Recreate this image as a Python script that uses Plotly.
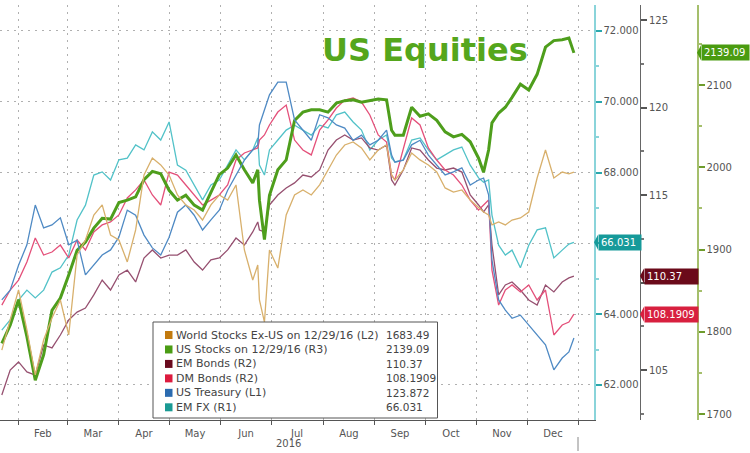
import plotly.graph_objects as go

# ---------------- data ----------------
dates = [
    "2016-01-22", "2016-01-27", "2016-02-01", "2016-02-06", "2016-02-11", "2016-02-16", "2016-02-21", "2016-02-26",
    "2016-03-02", "2016-03-07", "2016-03-12", "2016-03-17", "2016-03-22", "2016-03-27",
    "2016-04-01", "2016-04-06", "2016-04-11", "2016-04-16", "2016-04-21", "2016-04-26",
    "2016-05-01", "2016-05-06", "2016-05-11", "2016-05-16", "2016-05-21", "2016-05-26", "2016-05-31",
    "2016-06-05", "2016-06-10", "2016-06-15", "2016-06-20", "2016-06-23", "2016-06-24", "2016-06-27", "2016-06-30",
    "2016-07-05", "2016-07-10", "2016-07-15", "2016-07-20", "2016-07-25", "2016-07-30",
    "2016-08-04", "2016-08-09", "2016-08-14", "2016-08-19", "2016-08-24", "2016-08-29",
    "2016-09-03", "2016-09-08", "2016-09-11", "2016-09-13", "2016-09-18", "2016-09-23", "2016-09-28",
    "2016-10-03", "2016-10-08", "2016-10-13", "2016-10-18", "2016-10-23", "2016-10-28",
    "2016-11-02", "2016-11-05", "2016-11-08", "2016-11-10", "2016-11-14", "2016-11-18", "2016-11-22", "2016-11-27",
    "2016-12-02", "2016-12-07", "2016-12-12", "2016-12-17", "2016-12-22", "2016-12-26", "2016-12-29",
]

world_stocks = [  # L2 (hidden axis)
    1552.6, 1574.7, 1596.8, 1567.4, 1534.3, 1560.0, 1576.2, 1589.4,
    1563.7, 1622.5, 1633.5, 1651.9, 1659.3, 1637.2,
    1633.5, 1617.4, 1640.9, 1681.3, 1693.8, 1688.7,
    1681.3, 1666.6, 1659.3, 1655.6, 1648.2, 1659.3, 1666.6,
    1662.9, 1674.0, 1626.2, 1604.1, 1615.1, 1589.4, 1573.2, 1626.2,
    1612.9, 1651.9, 1666.6, 1670.3, 1666.6, 1674.0,
    1685.0, 1696.0, 1703.4, 1705.6, 1701.2, 1692.4,
    1699.7, 1703.4, 1681.3, 1677.6, 1685.0, 1697.5, 1692.4,
    1688.7, 1683.5, 1671.8, 1668.8, 1670.3, 1662.9,
    1657.1, 1654.1, 1651.9, 1644.6, 1646.8, 1644.6, 1648.2, 1649.7,
    1654.1, 1679.1, 1699.7, 1679.1, 1683.5, 1682.1, 1683.49,
]

us_stocks = [  # R3
    1786, 1808, 1839, 1794, 1741, 1772, 1826, 1841,
    1869, 1899, 1909, 1926, 1938, 1937,
    1957, 1960, 1964, 1985, 1995, 1992,
    1972, 1960, 1966, 1954, 1948, 1969, 1991,
    1999, 2015, 1997, 1981, 1997, 1960, 1912, 1966,
    1997, 2009, 2057, 2067, 2070, 2070,
    2067, 2078, 2081, 2082, 2079, 2081,
    2083, 2082, 2045, 2039, 2039, 2073, 2062,
    2065, 2057, 2043, 2037, 2040, 2031,
    2011, 1994, 2021, 2054, 2066, 2073, 2085, 2101,
    2094, 2113, 2146, 2154, 2155, 2157, 2139.09,
]

em_bonds = [  # R2
    103.57, 105.00, 105.46, 104.89, 104.71, 106.43, 106.26, 107.00,
    107.86, 108.31, 108.54, 109.29, 110.14, 109.57,
    110.43, 110.71, 110.03, 111.40, 111.86, 111.40,
    111.57, 111.57, 111.86, 111.17, 110.71, 111.29, 111.40,
    111.86, 112.54, 112.14, 112.89, 113.46, 113.00, 112.89, 114.43,
    115.00, 115.40, 115.69, 116.14, 116.03, 116.43,
    117.57, 118.14, 118.43, 118.14, 118.26, 117.69,
    117.57, 117.86, 115.86, 115.57, 116.43, 117.69, 117.57,
    117.00, 116.54, 116.43, 116.54, 116.31, 115.00,
    114.43, 114.03, 114.43, 112.14, 109.29, 109.86, 110.03, 109.57,
    109.00, 108.71, 109.86, 109.46, 110.03, 110.26, 110.37,
]

dm_bonds = [  # R2
    108.71, 109.57, 110.14, 111.17, 112.54, 111.57, 111.74, 112.14,
    111.40, 112.43, 111.86, 112.89, 113.29, 113.46,
    113.86, 114.83, 115.29, 115.86, 115.00, 114.43,
    116.31, 116.14, 115.57, 115.00, 114.43, 114.71, 115.00,
    115.57, 117.00, 117.40, 117.57, 117.69, 118.14, 118.43, 119.00,
    119.74, 120.14, 118.14, 117.57, 117.29, 118.71,
    119.29, 119.97, 120.43, 120.54, 120.31, 119.57,
    118.43, 118.03, 116.14, 115.86, 117.57, 119.40, 119.00,
    117.69, 117.00, 116.43, 116.14, 115.57, 114.71,
    114.14, 114.43, 114.71, 110.71, 108.71, 109.57, 109.86, 109.46,
    109.86, 109.00, 109.57, 107.00, 107.57, 107.74, 108.1909,
]

us_treasury = [  # L1 (hidden axis)
    124.62, 124.81, 125.30, 125.70, 126.48, 126.03, 126.09, 126.23,
    125.70, 125.79, 125.11, 125.30, 125.50, 125.60,
    125.85, 126.38, 126.28, 125.89, 125.64, 125.50,
    125.85, 126.34, 126.48, 126.28, 125.99, 126.19, 126.38,
    126.77, 127.07, 127.36, 127.56, 127.66, 128.05, 128.34, 128.64,
    128.89, 128.89, 128.15, 127.95, 127.75, 128.25,
    128.19, 128.05, 127.99, 127.75, 127.85, 127.66,
    127.75, 127.95, 127.46, 127.32, 127.36, 127.66, 127.75,
    127.46, 127.26, 127.07, 127.13, 127.21, 126.87,
    126.97, 127.01, 126.68, 125.40, 124.62, 124.42, 124.26, 124.32,
    124.13, 123.93, 123.74, 123.25, 123.48, 123.60, 123.872,
]

em_fx = [  # R1
    63.55, 63.84, 64.40, 64.68, 64.46, 64.68, 65.19, 65.31,
    65.67, 66.66, 67.08, 67.93, 68.02, 67.79,
    68.36, 68.41, 68.78, 68.64, 69.15, 68.92,
    69.43, 68.21, 68.07, 67.65, 67.23, 67.65, 67.79,
    68.21, 68.64, 68.36, 68.64, 68.98, 68.21, 67.93, 68.64,
    68.92, 69.20, 69.34, 69.20, 69.06, 69.34,
    69.26, 69.63, 69.71, 69.43, 69.20, 68.64,
    68.92, 69.06, 68.41, 68.30, 68.36, 68.92, 68.98,
    68.64, 68.36, 68.50, 68.64, 68.72, 68.21,
    67.85, 67.73, 67.79, 66.80, 65.95, 65.67, 65.81, 65.31,
    65.95, 66.38, 66.44, 65.59, 65.81, 65.98, 66.031,
]

legend_names = [
    "World Stocks Ex-US on 12/29/16 (L2)",
    "US Stocks on 12/29/16 (R3)",
    "EM Bonds (R2)",
    "DM Bonds (R2)",
    "US Treasury (L1)",
    "EM FX (R1)",
]
legend_values = ["1683.49", "2139.09", "110.37", "108.1909", "123.872", "66.031"]

r1_ticks = [62, 64, 66, 68, 70, 72]
r1_labels = ["62.000", "64.000", "", "68.000", "70.000", "72.000"]   # 66 hidden under the tag
r2_ticks = [105, 110, 115, 120, 125]
r2_labels = ["105", "", "115", "120", "125"]                          # 110 hidden under the tag
r3_ticks = [1700, 1800, 1900, 2000, 2100]

for s in (world_stocks, us_stocks, em_bonds, dm_bonds, us_treasury, em_fx):
    assert len(s) == len(dates)

# ---------------- geometry / style ----------------
W, H = 750, 453
MT, MB = 5, 33
PH = H - MT - MB          # plot height in px
BOTTOM = H - MB           # px of plot bottom


def px(xp):               # horizontal pixel -> paper
    return xp / W


def py(yp):               # vertical pixel (from top) -> paper
    return (BOTTOM - yp) / PH


FONT = "DejaVu Sans"
GRID = "#b0b0b0"
GRID_DASH = "2px,5px"

R1_RANGE = [61.011, 72.734]
R2_RANGE = [102.143, 125.857]
R3_RANGE = [1692.7, 2197.3]
L1_RANGE = [122.265, 130.402]
L2_RANGE = [1501.18, 1806.3]

line_cols = {
    "world": "#d8b06c",
    "us": "#4e9e1c",
    "emb": "#965070",
    "dmb": "#e4507a",
    "ust": "#4f8ac4",
    "emfx": "#52c2c8",
}
legend_cols = ["#c27a0e", "#4a9c14", "#6a0a1e", "#dc1b3e", "#2b6bb0", "#1a9a94"]

fig = go.Figure()


def add(y, axis, col, width):
    fig.add_trace(go.Scatter(x=dates, y=y, yaxis=axis, mode="lines",
                             line=dict(color=col, width=width),
                             hoverinfo="skip", showlegend=False))


add(em_bonds, "y2", line_cols["emb"], 1.3)
add(dm_bonds, "y2", line_cols["dmb"], 1.3)
add(us_treasury, "y4", line_cols["ust"], 1.3)
add(em_fx, "y", line_cols["emfx"], 1.3)
add(world_stocks, "y5", line_cols["world"], 1.3)
add(us_stocks, "y3", line_cols["us"], 3.0)

tickfont = dict(family=FONT, size=10, color="#555555")

fig.update_layout(
    template="none",
    width=W, height=H,
    margin=dict(l=0, r=0, t=MT, b=MB, pad=0),
    paper_bgcolor="white", plot_bgcolor="white",
    font=dict(family=FONT, size=10, color="#555555"),
    hovermode=False,
    showlegend=False,
    xaxis=dict(
        domain=[0, px(594)], type="date",
        range=["2016-01-20 22:00", "2017-01-10 00:00"],
        dtick="M1", tick0="2016-01-01", tickformat="%b", ticklabelmode="period",
        showgrid=True, gridcolor=GRID, griddash=GRID_DASH, gridwidth=1,
        ticks="outside", ticklen=4, tickcolor="#555555",
        showline=True, linecolor="#555555", linewidth=1,
        tickfont=tickfont, zeroline=False, anchor="y", automargin=False,
    ),
    yaxis=dict(
        side="right", anchor="x", range=R1_RANGE,
        tickmode="array", tickvals=r1_ticks, ticktext=r1_labels,
        showgrid=True, gridcolor=GRID, griddash=GRID_DASH,
        showline=True, linecolor="#8ad4da", linewidth=1.5,
        ticks="outside", ticklen=6, tickwidth=2, tickcolor="#2aa7ad",
        minor=dict(dtick=1, ticks="outside", ticklen=3, tickcolor="#8ad4da"),
        tickfont=tickfont, zeroline=False, automargin=False,
    ),
    yaxis2=dict(
        overlaying="y", anchor="free", position=px(640), side="right",
        range=R2_RANGE, tickmode="array", tickvals=r2_ticks, ticktext=r2_labels,
        showgrid=False,
        showline=True, linecolor="#666666", linewidth=1,
        ticks="outside", ticklen=6, tickwidth=2, tickcolor="#555555",
        minor=dict(dtick=2.5, ticks="outside", ticklen=3, tickcolor="#777777"),
        tickfont=tickfont, zeroline=False, automargin=False,
    ),
    yaxis3=dict(
        overlaying="y", anchor="free", position=px(697), side="right",
        range=R3_RANGE, tickmode="array", tickvals=r3_ticks,
        showgrid=False,
        showline=True, linecolor="#a5bf6c", linewidth=1.5,
        ticks="outside", ticklen=6, tickwidth=2, tickcolor="#6e9c2c",
        minor=dict(dtick=50, ticks="outside", ticklen=3, tickcolor="#a5bf6c"),
        tickfont=tickfont, zeroline=False, automargin=False,
    ),
    yaxis4=dict(overlaying="y", range=L1_RANGE, visible=False),
    yaxis5=dict(overlaying="y", range=L2_RANGE, visible=False),
)

shapes = []
annotations = []

# title
annotations.append(dict(
    xref="paper", yref="paper", x=px(425), y=py(50), xanchor="center", yanchor="middle",
    text="<b>US Equities</b>", showarrow=False,
    font=dict(family=FONT, size=32, color="#55a61c"),
))

# year label and separator
annotations.append(dict(
    xref="paper", yref="paper", x=px(288), y=py(443), xanchor="center", yanchor="middle",
    text="2016", showarrow=False, font=dict(family=FONT, size=10, color="#555555"),
))
shapes.append(dict(type="line", xref="paper", yref="paper",
                   x0=px(578), x1=px(578), y0=py(437), y1=py(451),
                   line=dict(color="#888888", width=1)))

# legend box
shapes.append(dict(type="rect", xref="paper", yref="paper", layer="above",
                   x0=px(153), x1=px(437.5), y0=py(418), y1=py(322),
                   line=dict(color="#555555", width=1), fillcolor="white"))
for i, (name, val, col) in enumerate(zip(legend_names, legend_values, legend_cols)):
    yc = 335 + 14.46 * i
    shapes.append(dict(type="rect", xref="paper", yref="paper", layer="above",
                       x0=px(165), x1=px(172.5), y0=py(yc + 4), y1=py(yc - 4),
                       line=dict(width=0), fillcolor=col))
    annotations.append(dict(xref="paper", yref="paper", x=px(174), y=py(yc),
                            xanchor="left", yanchor="middle", text=name, showarrow=False,
                            font=dict(family=FONT, size=11, color="#444444")))
    annotations.append(dict(xref="paper", yref="paper", x=px(384), y=py(yc),
                            xanchor="left", yanchor="middle", text=val, showarrow=False,
                            font=dict(family=FONT, size=10.5, color="#444444")))


# last-value tags on the right axes
def tag(axis_px, yref, value, text, col, box_w, rng):
    half = 7.5 * (rng[1] - rng[0]) / PH
    shapes.append(dict(type="path", xref="paper", yref=yref, layer="above",
                       path=f"M {px(axis_px)},{value} L {px(axis_px + 4)},{value + half} "
                            f"L {px(axis_px + 4)},{value - half} Z",
                       line=dict(width=0), fillcolor=col))
    annotations.append(dict(xref="paper", yref=yref, x=px(axis_px + 4), y=value,
                            xanchor="left", yanchor="middle", text=text, showarrow=False,
                            bgcolor=col, borderpad=2, width=box_w, height=11, align="left",
                            font=dict(family=FONT, size=10, color="white")))


tag(594, "y", em_fx[-1], "66.031", "#169a9a", 38, R1_RANGE)
tag(640, "y2", em_bonds[-1], "110.37", "#6b0a1a", 49, R2_RANGE)
tag(640, "y2", dm_bonds[-1], "108.1909", "#d8203f", 49, R2_RANGE)
tag(697, "y3", us_stocks[-1], "2139.09", "#4a9b10", 43, R3_RANGE)

fig.update_layout(shapes=shapes, annotations=annotations)

fig.write_html(
    "out.html",
    config={"displayModeBar": False, "staticPlot": True},
    post_script="document.body.style.margin='0';document.body.style.overflow='hidden';",
)
